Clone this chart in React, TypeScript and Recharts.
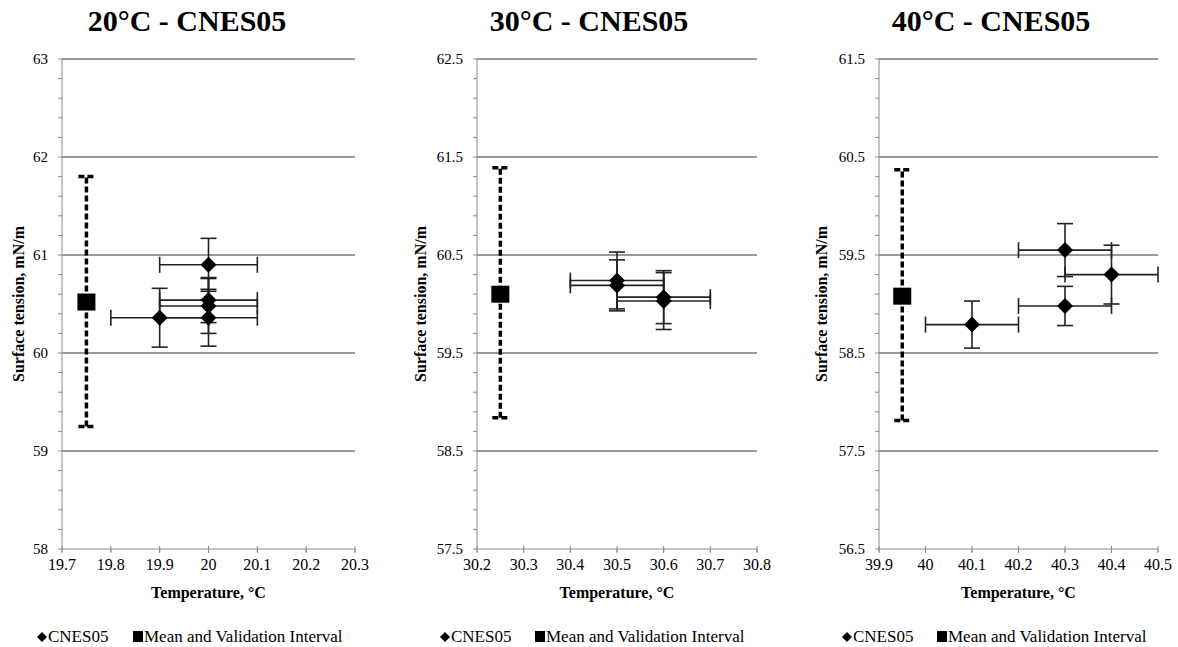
import { ScatterChart, Scatter, XAxis, YAxis, CartesianGrid, ErrorBar } from 'recharts';

const FONT = '"Liberation Serif", "Times New Roman", Times, serif';

// 20°C panel
const temps20 = [19.9, 20.0, 20.0, 20.0, 20.0];
const tension20 = [60.36, 60.9, 60.54, 60.48, 60.36];
const tempErr20 = [0.1, 0.1, 0.1, 0.1, 0.1];
const tensionErr20 = [0.3, 0.27, 0.23, 0.28, 0.29];
const xTicks20 = [19.7, 19.8, 19.9, 20, 20.1, 20.2, 20.3];
const yMajor20 = [58, 59, 60, 61, 62, 63];

// 30°C panel
const temps30 = [30.5, 30.5, 30.6, 30.6];
const tension30 = [60.24, 60.19, 60.07, 60.03];
const tempErr30 = [0.1, 0.1, 0.1, 0.1];
const tensionErr30 = [0.29, 0.26, 0.27, 0.29];
const xTicks30 = [30.2, 30.3, 30.4, 30.5, 30.6, 30.7, 30.8];
const yMajor30 = [57.5, 58.5, 59.5, 60.5, 61.5, 62.5];

// 40°C panel
const temps40 = [40.1, 40.3, 40.3, 40.4];
const tension40 = [58.79, 59.55, 58.98, 59.3];
const tempErr40 = [0.1, 0.1, 0.1, 0.1];
const tensionErr40 = [0.24, 0.27, 0.2, 0.3];
const xTicks40 = [39.9, 40, 40.1, 40.2, 40.3, 40.4, 40.5];
const yMajor40 = [56.5, 57.5, 58.5, 59.5, 60.5, 61.5];

// mean and validation interval, one per panel
const titles = ['20°C - CNES05', '30°C - CNES05', '40°C - CNES05'];
const meanTemps = [19.75, 30.25, 39.95];
const meanValues = [60.52, 60.1, 59.08];
const intervalLow = [59.25, 58.84, 57.81];
const intervalHigh = [61.8, 61.39, 60.37];

const points = (t: number[], v: number[], et: number[], ev: number[]) =>
  t.map((x, i) => ({ x, y: v[i], ex: et[i], ey: ev[i] }));

const minorTicks = (majors: number[]) => {
  const out: number[] = [];
  const lo = majors[0];
  const hi = majors[majors.length - 1];
  for (let k = 0; lo + k * 0.2 <= hi + 1e-6; k++) out.push(Math.round((lo + k * 0.2) * 10) / 10);
  return out;
};

const panels = [
  { left: 0, width: 390, ml: 17, mr: 35, titleX: 187, yTitleX: 18, pts: points(temps20, tension20, tempErr20, tensionErr20), xTicks: xTicks20, yMajor: yMajor20, legend: [37, 133] },
  { left: 390, width: 390, ml: 42, mr: 23, titleX: 589, yTitleX: 30, pts: points(temps30, tension30, tempErr30, tensionErr30), xTicks: xTicks30, yMajor: yMajor30, legend: [440, 535] },
  { left: 780, width: 398, ml: 54, mr: 20, titleX: 991, yTitleX: 41.5, pts: points(temps40, tension40, tempErr40, tensionErr40), xTicks: xTicks40, yMajor: yMajor40, legend: [842, 937] },
];

const Diamond = (p: any) => (
  <polygon
    points={`${p.cx - 8},${p.cy} ${p.cx},${p.cy - 8} ${p.cx + 8},${p.cy} ${p.cx},${p.cy + 8}`}
    fill="#000"
  />
);

const Square = (p: any) => <rect x={p.cx - 9} y={p.cy - 8.5} width={18} height={17} fill="#000" />;

const XTick = (tp: any) => (
  <g>
    <line x1={tp.x} x2={tp.x} y1={tp.y - 10} y2={tp.y - 4} stroke="#8a8a8a" strokeWidth={1} />
    <text
      x={tp.x}
      y={tp.y + 8}
      textAnchor="middle"
      dominantBaseline="central"
      style={{ fontFamily: FONT, fontSize: 16, fill: '#000' }}
    >
      {tp.payload.value}
    </text>
  </g>
);

const legendStyle = {
  position: 'absolute' as const,
  top: 626,
  fontFamily: FONT,
  fontSize: 17,
  lineHeight: '22px',
  color: '#000',
  whiteSpace: 'nowrap' as const,
};

const Panel = ({ idx }: { idx: number }) => {
  const p = panels[idx];
  const mean = [
    {
      x: meanTemps[idx],
      y: meanValues[idx],
      range: [meanValues[idx] - intervalLow[idx], intervalHigh[idx] - meanValues[idx]],
    },
  ];
  const yTicks = minorTicks(p.yMajor);
  const isMajor = (v: number) => p.yMajor.some((m) => Math.abs(m - v) < 1e-6);

  return (
    <>
      <div
        style={{
          position: 'absolute',
          left: p.titleX - 150,
          width: 300,
          top: 4,
          textAlign: 'center',
          fontFamily: FONT,
          fontWeight: 'bold',
          fontSize: 30,
          lineHeight: '34px',
          color: '#000',
        }}
      >
        {titles[idx]}
      </div>
      <div style={{ position: 'absolute', left: p.left, top: 0 }}>
        <ScatterChart width={p.width} height={647} margin={{ top: 59, right: p.mr, bottom: 58, left: p.ml }}>
          <CartesianGrid
            vertical={false}
            horizontalValues={p.yMajor.slice(1)}
            stroke="#9a9a9a"
            strokeWidth={1.8}
          />
          <XAxis
            type="number"
            dataKey="x"
            domain={[p.xTicks[0], p.xTicks[p.xTicks.length - 1]]}
            ticks={p.xTicks}
            interval={0}
            allowDataOverflow
            height={40}
            tickSize={4}
            tickMargin={3}
            stroke="#8a8a8a"
            tick={XTick}
            label={{
              value: 'Temperature, °C',
              content: (lp: any) => {
                const vb = lp.viewBox || { x: 0, y: 549, width: 0 };
                return (
                  <text
                    x={vb.x + vb.width / 2}
                    y={vb.y + 43}
                    textAnchor="middle"
                    dominantBaseline="central"
                    style={{ fontFamily: FONT, fontWeight: 'bold', fontSize: 16, fill: '#000' }}
                  >
                    Temperature, °C
                  </text>
                );
              },
            }}
          />
          <YAxis
            type="number"
            dataKey="y"
            domain={[p.yMajor[0], p.yMajor[p.yMajor.length - 1]]}
            ticks={yTicks}
            interval={0}
            allowDataOverflow
            width={45}
            tickSize={4}
            tickMargin={10}
            stroke="#8a8a8a"
            tick={(tp: any) =>
              isMajor(tp.payload.value) ? (
                <text
                  x={tp.x}
                  y={tp.y}
                  textAnchor="end"
                  dominantBaseline="central"
                  style={{ fontFamily: FONT, fontSize: 15, fill: '#000' }}
                >
                  {tp.payload.value}
                </text>
              ) : (
                <g />
              )
            }
            label={{
              value: 'Surface tension, mN/m',
              content: (lp: any) => {
                const vb = lp.viewBox || { y: 59, height: 490 };
                const cy = vb.y + vb.height / 2;
                return (
                  <text
                    x={p.yTitleX}
                    y={cy}
                    transform={`rotate(-90 ${p.yTitleX} ${cy})`}
                    textAnchor="middle"
                    dominantBaseline="central"
                    style={{ fontFamily: FONT, fontWeight: 'bold', fontSize: 16, fill: '#000' }}
                  >
                    Surface tension, mN/m
                  </text>
                );
              },
            }}
          />
          <Scatter data={mean} shape={Square} isAnimationActive={false}>
            <ErrorBar dataKey="range" direction="y" width={8} stroke="#000" strokeWidth={3.5} strokeDasharray="6 3" />
          </Scatter>
          <Scatter data={p.pts} shape={Diamond} isAnimationActive={false}>
            <ErrorBar dataKey="ex" direction="x" width={8} stroke="#222" strokeWidth={1.6} />
            <ErrorBar dataKey="ey" direction="y" width={8} stroke="#222" strokeWidth={1.6} />
          </Scatter>
        </ScatterChart>
      </div>
      <div style={{ ...legendStyle, left: p.legend[0] }}>
        <svg width={10} height={10} style={{ marginRight: 1 }}>
          <polygon points="0,5 5,0 10,5 5,10" fill="#000" />
        </svg>
        CNES05
      </div>
      <div style={{ ...legendStyle, left: p.legend[1] }}>
        <svg width={10} height={11} style={{ marginRight: 1 }}>
          <rect x={0} y={0} width={10} height={11} fill="#000" />
        </svg>
        Mean and Validation Interval
      </div>
    </>
  );
};

export default function App() {
  return (
    <div
      style={{
        position: 'absolute',
        left: 0,
        top: 0,
        width: 1178,
        height: 647,
        background: '#fff',
        overflow: 'hidden',
        fontFamily: FONT,
      }}
    >
      <Panel idx={0} />
      <Panel idx={1} />
      <Panel idx={2} />
    </div>
  );
}
